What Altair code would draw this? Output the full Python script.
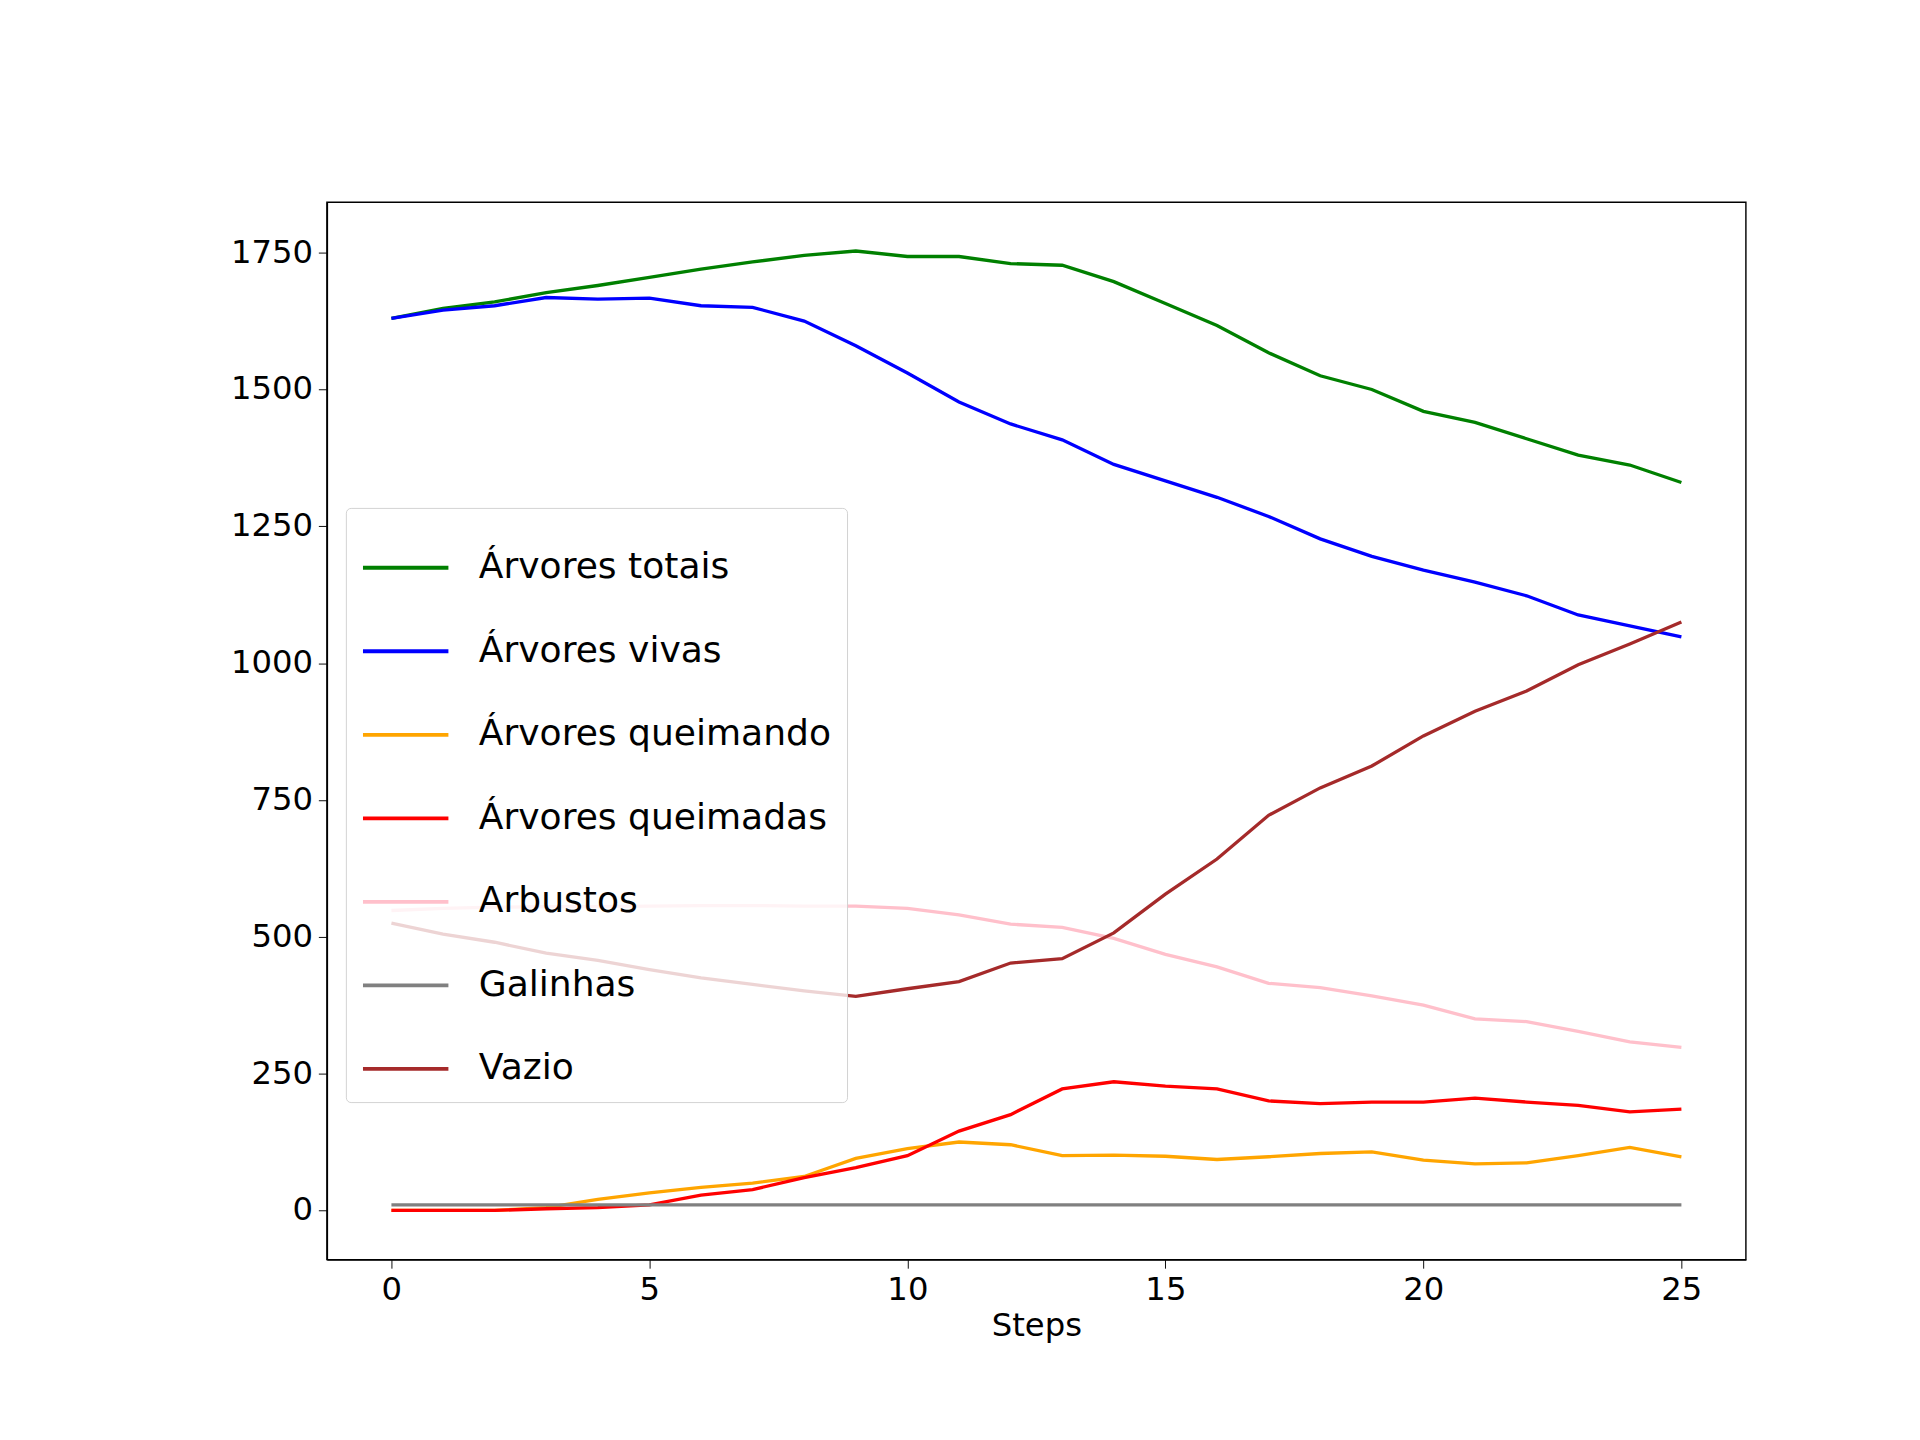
import altair as alt
import pandas as pd

steps = list(range(26))
totais = [1630, 1648, 1660, 1677, 1690, 1705, 1720, 1733, 1745, 1753, 1743, 1743, 1730, 1727, 1697, 1657, 1617, 1567, 1525, 1500, 1460, 1440, 1410, 1380, 1362, 1330]
vivas = [1630, 1645, 1653, 1668, 1665, 1667, 1653, 1650, 1625, 1580, 1530, 1477, 1437, 1408, 1363, 1333, 1303, 1268, 1227, 1195, 1170, 1148, 1123, 1088, 1068, 1048]
queimando = [0, 0, 0, 5, 20, 32, 42, 50, 62, 95, 113, 125, 120, 100, 101, 99, 93, 98, 104, 107, 92, 85, 87, 100, 115, 98]
queimadas = [0, 0, 0, 3, 5, 10, 28, 38, 60, 78, 100, 145, 175, 222, 235, 227, 222, 200, 195, 198, 198, 205, 198, 192, 180, 185]
arbustos = [548, 552, 554, 555, 555, 556, 557, 557, 556, 556, 552, 540, 523, 517, 497, 468, 445, 415, 407, 392, 375, 350, 345, 327, 308, 298]
galinhas = [10] * 26
vazio = [525, 505, 490, 470, 457, 440, 425, 413, 401, 391, 405, 418, 452, 460, 507, 578, 642, 722, 772, 812, 867, 912, 949, 997, 1035, 1075]

names = ["Árvores totais", "Árvores vivas", "Árvores queimando", "Árvores queimadas",
         "Arbustos", "Galinhas", "Vazio"]
colors = ["green", "blue", "orange", "red", "pink", "gray", "brown"]
series = [totais, vivas, queimando, queimadas, arbustos, galinhas, vazio]

rows = []
for i, (n, vals) in enumerate(zip(names, series)):
    for s, v in zip(steps, vals):
        rows.append({"step": s, "value": v, "serie": n, "ord": i})
df = pd.DataFrame(rows)

font = "DejaVu Sans"
chart = alt.Chart(df).mark_line(strokeWidth=3.5, clip=True).encode(
    x=alt.X("step:Q", title="Steps",
            scale=alt.Scale(domain=[-1.25, 26.25], nice=False, zero=False),
            axis=alt.Axis(values=[0, 5, 10, 15, 20, 25], grid=False, format="d")),
    y=alt.Y("value:Q", title=None,
            scale=alt.Scale(domain=[-90, 1842], nice=False),
            axis=alt.Axis(values=[0, 250, 500, 750, 1000, 1250, 1500, 1750],
                          grid=False, format="d")),
    color=alt.Color("serie:N", title=None,
                    scale=alt.Scale(domain=names, range=colors),
                    legend=alt.Legend(orient="none", legendX=20, legendY=322,
                                      symbolType="stroke", symbolStrokeWidth=4,
                                      symbolSize=8100, labelFontSize=38,
                                      labelFont=font, rowPadding=22,
                                      labelOffset=30,
                                      padding=16, fillColor="rgba(255,255,255,0.8)",
                                      strokeColor="#d0d0d0", cornerRadius=5,
                                      labelLimit=700)),
    order="ord:Q",
).properties(
    width=1495, height=1114,
    padding={"left": 234, "top": 167, "right": 175, "bottom": 40}
).configure_axis(
    labelFontSize=34, titleFontSize=34, labelFont=font, titleFont=font,
    labelColor="black", titleColor="black", domainColor="black", tickColor="black",
    tickSize=9, domainWidth=1.5, titleFontWeight="normal", labelPadding=6
).configure_view(stroke="black", strokeWidth=1.5)

chart.save("out.html", embed_options={"renderer": "svg", "actions": False})
